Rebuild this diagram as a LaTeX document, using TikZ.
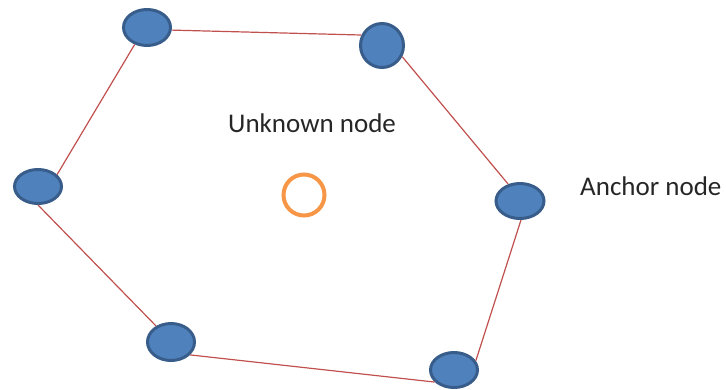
\documentclass[tikz,border=0pt]{standalone}
\usepackage{fontspec}
\setmainfont{Carlito}
\usetikzlibrary{shapes.geometric}
\definecolor{anchorfill}{HTML}{4F81BD}
\definecolor{anchorline}{HTML}{385D8A}
\definecolor{edgered}{HTML}{C0504D}
\definecolor{unkorange}{HTML}{F79646}
\definecolor{txtgray}{HTML}{262626}
\begin{document}
\begin{tikzpicture}[x=1pt,y=-1pt,
  anc/.style={ellipse,draw=anchorline,fill=anchorfill,line width=3pt,inner sep=0pt},
  unk/.style={circle,draw=unkorange,line width=4pt,inner sep=0pt,minimum size=41pt},
  lbl/.style={inner sep=0pt,anchor=base west,text=txtgray,font=\fontsize{27}{32}\selectfont},
  edge/.style={draw=edgered,line width=1.2pt}]
\useasboundingbox (0,0) rectangle (726,389);
\node[anc,minimum width=47pt,minimum height=36pt] (n1) at (147,27.5) {};
\node[anc,minimum width=43pt,minimum height=44pt] (n2) at (382,45.5) {};
\node[anc,minimum width=47pt,minimum height=34pt] (n3) at (38,186.5) {};
\node[anc,minimum width=48pt,minimum height=35pt] (n4) at (520,201) {};
\node[anc,minimum width=47pt,minimum height=37pt] (n5) at (171,342) {};
\node[anc,minimum width=47pt,minimum height=35pt] (n6) at (454,370) {};
\node[unk] (u) at (304,195) {};
\node[lbl] (lu) at (228,132) {Unknown node};
\node[lbl] (la) at (580,195) {Anchor node};
\draw[edge] (n1.-6) -- (n2.153);
\draw[edge] (n2.331) -- (n4.125);
\draw[edge] (n4.273) -- (n6.23);
\draw[edge] (n6.212) -- (n5.-34);
\draw[edge] (n5.133) -- (n3.270);
\draw[edge] (n3.32) -- (n1.234);
\end{tikzpicture}
\end{document}
